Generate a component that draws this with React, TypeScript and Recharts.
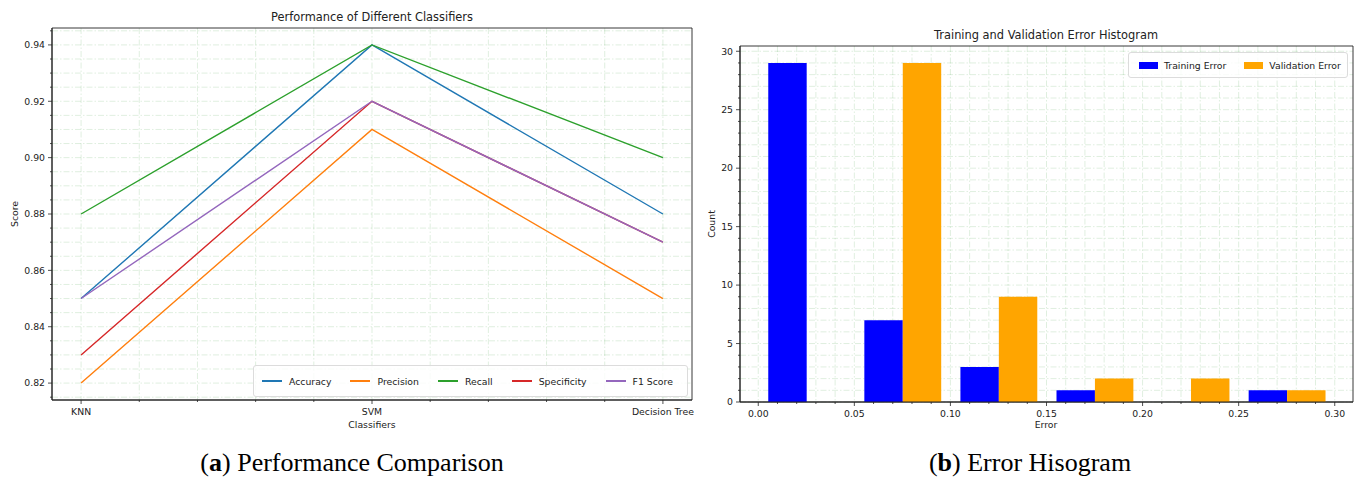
import React from "react";
import {
  LineChart,
  Line,
  BarChart,
  Bar,
  XAxis,
  YAxis,
  CartesianGrid,
  ReferenceArea,
} from "recharts";

// ---- (a) classifier scores ----
const CLASSIFIERS = ["KNN", "SVM", "Decision Tree"];
const ACCURACY = [0.85, 0.94, 0.88];
const PRECISION = [0.82, 0.91, 0.85];
const RECALL = [0.88, 0.94, 0.9];
const SPECIFICITY = [0.83, 0.92, 0.87];
const F1_SCORE = [0.85, 0.92, 0.87];

const METRICS = [
  { name: "Accuracy", values: ACCURACY, color: "#1f77b4" },
  { name: "Precision", values: PRECISION, color: "#ff7f0e" },
  { name: "Recall", values: RECALL, color: "#2ca02c" },
  { name: "Specificity", values: SPECIFICITY, color: "#d62728" },
  { name: "F1 Score", values: F1_SCORE, color: "#9467bd" },
];

const PERF_X_TICKS = [0, 0.2, 0.4, 0.6, 0.8, 1, 1.2, 1.4, 1.6, 1.8, 2];
const PERF_Y_TICKS = [
  0.815, 0.82, 0.825, 0.83, 0.835, 0.84, 0.845, 0.85, 0.855, 0.86, 0.865,
  0.87, 0.875, 0.88, 0.885, 0.89, 0.895, 0.9, 0.905, 0.91, 0.915, 0.92,
  0.925, 0.93, 0.935, 0.94, 0.945,
];
const PERF_X_DOMAIN = [-0.1, 2.1];
const PERF_Y_DOMAIN = [0.814, 0.946];

// ---- (b) error histogram ----
const BIN_CENTERS = [0.025, 0.075, 0.125, 0.175, 0.225, 0.275];
const TRAINING_COUNTS = [29, 7, 3, 1, 0, 1];
const VALIDATION_COUNTS = [0, 29, 9, 2, 2, 1];
const BAR_WIDTH = 0.02; // in error units

const HIST_X_TICKS = [
  0, 0.01, 0.02, 0.03, 0.04, 0.05, 0.06, 0.07, 0.08, 0.09, 0.1, 0.11, 0.12,
  0.13, 0.14, 0.15, 0.16, 0.17, 0.18, 0.19, 0.2, 0.21, 0.22, 0.23, 0.24, 0.25,
  0.26, 0.27, 0.28, 0.29, 0.3,
];
const HIST_Y_TICKS = [
  0, 1, 2, 3, 4, 5, 6, 7, 8, 9, 10, 11, 12, 13, 14, 15, 16, 17, 18, 19, 20, 21,
  22, 23, 24, 25, 26, 27, 28, 29, 30,
];
const HIST_X_DOMAIN = [-0.0095, 0.3095];
const HIST_Y_DOMAIN = [0, 30.45];

const FONT = "'DejaVu Sans', sans-serif";
const SERIF = "'Liberation Serif', 'DejaVu Serif', serif";
const INK = "#222";
const TICK_FS = 9.3;

const perfData = CLASSIFIERS.map((c, i) => {
  const row: Record<string, number> = { x: i };
  METRICS.forEach((m) => (row[m.name] = m.values[i]));
  return row;
});

const histData = BIN_CENTERS.map((x, i) => ({
  x,
  training: TRAINING_COUNTS[i],
  validation: VALIDATION_COUNTS[i],
}));

const HIST_PLOT_W = 613;
const barPx = (HIST_PLOT_W * BAR_WIDTH) / (HIST_X_DOMAIN[1] - HIST_X_DOMAIN[0]);

// tick renderers: major ticks get a label and a longer mark
const xTick =
  (isMajor: (v: number) => boolean, label: (v: number) => string) =>
  (props: any) => {
    const { x, y, payload } = props;
    const major = isMajor(payload.value);
    return (
      <g>
        <line x1={x} x2={x} y1={y} y2={y + (major ? 4 : 2)} stroke={INK} strokeWidth={0.8} />
        {major && (
          <text x={x} y={y + 12} dy="0.35em" textAnchor="middle" fontSize={TICK_FS} fontFamily={FONT} fill={INK}>
            {label(payload.value)}
          </text>
        )}
      </g>
    );
  };

const yTick =
  (isMajor: (v: number) => boolean, label: (v: number) => string) =>
  (props: any) => {
    const { x, y, payload } = props;
    const major = isMajor(payload.value);
    return (
      <g>
        <line x1={x - (major ? 4 : 2)} x2={x} y1={y} y2={y} stroke={INK} strokeWidth={0.8} />
        {major && (
          <text x={x - 7} y={y} dy="0.35em" textAnchor="end" fontSize={TICK_FS} fontFamily={FONT} fill={INK}>
            {label(payload.value)}
          </text>
        )}
      </g>
    );
  };

const Label: React.FC<{ x: number; y: number; size?: number; rotate?: boolean; children: React.ReactNode }> = ({
  x,
  y,
  size = TICK_FS,
  rotate,
  children,
}) => (
  <div
    style={{
      position: "absolute",
      left: x,
      top: y,
      transform: `translate(-50%, -50%)${rotate ? " rotate(-90deg)" : ""}`,
      whiteSpace: "nowrap",
      fontFamily: FONT,
      fontSize: size,
      color: INK,
      lineHeight: 1,
    }}
  >
    {children}
  </div>
);

const Caption: React.FC<{ x: number; tag: string; text: string }> = ({ x, tag, text }) => (
  <div
    style={{
      position: "absolute",
      left: x,
      top: 463,
      transform: "translate(-50%, -50%)",
      whiteSpace: "nowrap",
      fontFamily: SERIF,
      fontSize: 26,
      color: "#000",
      lineHeight: 1,
    }}
  >
    (<b>{tag}</b>) {text}
  </div>
);

const gridProps = {
  stroke: "#008000",
  strokeOpacity: 0.16,
  strokeDasharray: "6 2 1.5 2",
  strokeWidth: 0.8,
};

const legendBox: React.CSSProperties = {
  position: "absolute",
  display: "flex",
  alignItems: "center",
  boxSizing: "border-box",
  background: "rgba(255,255,255,0.8)",
  border: "1px solid #dcdcdc",
  borderRadius: 3,
  fontFamily: FONT,
  fontSize: TICK_FS,
  color: INK,
};

const App: React.FC = () => {
  return (
    <div style={{ position: "absolute", left: 0, top: 0, width: 1359, height: 477, background: "#fff" }}>
      {/* (a) line chart */}
      <div style={{ position: "absolute", left: 0, top: 0 }}>
        <LineChart width={700} height={477} data={perfData} margin={{ top: 28, right: 8, bottom: 57, left: 12 }}>
          <CartesianGrid {...gridProps} verticalValues={PERF_X_TICKS} horizontalValues={PERF_Y_TICKS} />
          <XAxis
            dataKey="x"
            type="number"
            domain={PERF_X_DOMAIN}
            allowDataOverflow
            ticks={PERF_X_TICKS}
            interval={0}
            height={20}
            tickSize={0}
            tickMargin={0}
            tickLine={false}
            stroke={INK}
            tick={xTick(
              (v) => Math.abs(v - Math.round(v)) < 1e-6,
              (v) => CLASSIFIERS[Math.round(v)]
            )}
          />
          <YAxis
            type="number"
            domain={PERF_Y_DOMAIN}
            allowDataOverflow
            ticks={PERF_Y_TICKS}
            interval={0}
            width={40}
            tickSize={0}
            tickMargin={0}
            tickLine={false}
            stroke={INK}
            tick={yTick(
              (v) => Math.round(v * 1000) % 20 === 0,
              (v) => v.toFixed(2)
            )}
          />
          {METRICS.map((m) => (
            <Line
              key={m.name}
              type="linear"
              dataKey={m.name}
              stroke={m.color}
              strokeWidth={1.4}
              dot={false}
              activeDot={false}
              isAnimationActive={false}
            />
          ))}
          <ReferenceArea
            x1={PERF_X_DOMAIN[0]}
            x2={PERF_X_DOMAIN[1]}
            y1={PERF_Y_DOMAIN[0]}
            y2={PERF_Y_DOMAIN[1]}
            fill="none"
            stroke={INK}
            strokeWidth={0.9}
            ifOverflow="visible"
          />
        </LineChart>
      </div>

      <Label x={372} y={18} size={11.4}>Performance of Different Classifiers</Label>
      <Label x={15} y={214} rotate>Score</Label>
      <Label x={372} y={425}>Classifiers</Label>

      {/* legend (a) */}
      <div style={{ ...legendBox, left: 253, top: 365, width: 435, height: 32, paddingLeft: 8 }}>
        {METRICS.map((m, i) => (
          <div key={m.name} style={{ display: "flex", alignItems: "center", marginRight: i < METRICS.length - 1 ? 19 : 0 }}>
            <div style={{ width: 20, height: 1.5, background: m.color, marginRight: 7 }} />
            <span>{m.name}</span>
          </div>
        ))}
      </div>

      {/* (b) histogram */}
      <div style={{ position: "absolute", left: 680, top: 0 }}>
        <BarChart
          width={679}
          height={477}
          data={histData}
          margin={{ top: 46, right: 6, bottom: 55, left: 30 }}
          barGap={0}
        >
          <XAxis
            dataKey="x"
            type="number"
            domain={HIST_X_DOMAIN}
            allowDataOverflow
            ticks={HIST_X_TICKS}
            interval={0}
            height={20}
            tickSize={0}
            tickMargin={0}
            tickLine={false}
            stroke={INK}
            tick={xTick(
              (v) => Math.round(v * 100) % 5 === 0,
              (v) => v.toFixed(2)
            )}
          />
          <YAxis
            type="number"
            domain={HIST_Y_DOMAIN}
            allowDataOverflow
            ticks={HIST_Y_TICKS}
            interval={0}
            width={30}
            tickSize={0}
            tickMargin={0}
            tickLine={false}
            stroke={INK}
            tick={yTick(
              (v) => v % 5 === 0,
              (v) => String(v)
            )}
          />
          <Bar dataKey="training" fill="#0000ff" barSize={barPx} isAnimationActive={false} />
          <Bar dataKey="validation" fill="#ffa500" barSize={barPx} isAnimationActive={false} />
          <CartesianGrid {...gridProps} verticalValues={HIST_X_TICKS} horizontalValues={HIST_Y_TICKS} />
          <ReferenceArea
            x1={HIST_X_DOMAIN[0]}
            x2={HIST_X_DOMAIN[1]}
            y1={HIST_Y_DOMAIN[0]}
            y2={HIST_Y_DOMAIN[1]}
            fill="none"
            stroke={INK}
            strokeWidth={0.9}
            ifOverflow="visible"
          />
        </BarChart>
      </div>

      <Label x={1046} y={36} size={11.4}>Training and Validation Error Histogram</Label>
      <Label x={712} y={224} rotate>Count</Label>
      <Label x={1046} y={425}>Error</Label>

      {/* legend (b) */}
      <div style={{ ...legendBox, left: 1128, top: 52, width: 220, height: 26, paddingLeft: 10 }}>
        {[
          { name: "Training Error", color: "#0000ff" },
          { name: "Validation Error", color: "#ffa500" },
        ].map((s, i) => (
          <div key={s.name} style={{ display: "flex", alignItems: "center", marginRight: i === 0 ? 18 : 0 }}>
            <div style={{ width: 19, height: 7, background: s.color, marginRight: 6 }} />
            <span>{s.name}</span>
          </div>
        ))}
      </div>

      <Caption x={352} tag="a" text="Performance Comparison" />
      <Caption x={1030} tag="b" text="Error Hisogram" />
    </div>
  );
};

export default App;
